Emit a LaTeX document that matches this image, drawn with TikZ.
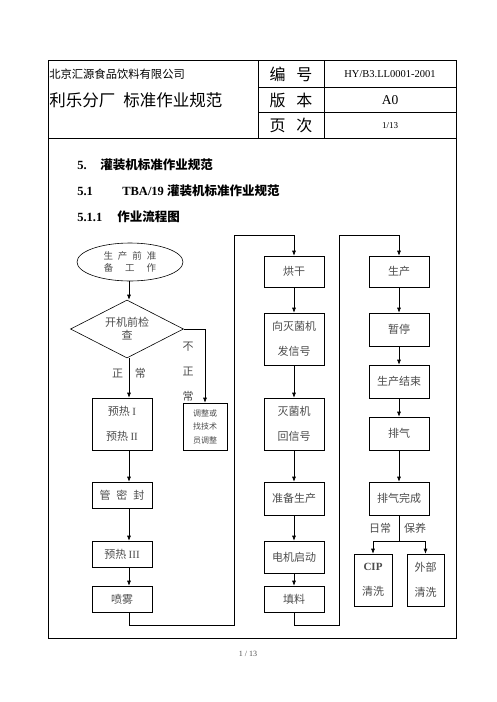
\documentclass[tikz,border=0pt]{standalone}
\usepackage{xcolor}
\usepackage{fontspec}
\setmainfont{Liberation Serif}
\newfontfamily\cjk{Noto Sans CJK SC}
\newcommand{\zh}[1]{{\cjk #1}}
\newcommand{\lat}[1]{{\rmfamily #1}}
\usepackage{tikz}
\usetikzlibrary{shapes, arrows.meta, positioning}

\begin{document}
\begin{tikzpicture}[x=1pt, y=-1pt, line width=0.6pt, >={Latex[length=5pt,width=4pt]},
    stepbox/.style={draw, rectangle, inner sep=0pt, align=center, text=black!70,
        font={\cjk\fontsize{11}{25}\selectfont}, minimum width=60pt},
    sidelabel/.style={text=black!70, font={\cjk\fontsize{11}{25}\selectfont}, inner sep=0pt},
    heading/.style={anchor=west, inner sep=0pt, font={\bfseries\fontsize{12.5}{14}\selectfont}}]

    \useasboundingbox (0,0) rectangle (496,702);

    % Frame and header table
    \draw (48,60) rectangle (456,638);
    \draw (258,60) -- (258,138.3);
    \draw (324,60) -- (324,138.3);
    \draw (258,87.7) -- (456,87.7);
    \draw (258,112.3) -- (456,112.3);
    \draw (48,138.3) -- (456,138.3);

    \node[anchor=west, inner sep=0pt, font={\cjk\fontsize{11.3}{13}\selectfont}] (company) at (49,74) {北京汇源食品饮料有限公司};
    \node[anchor=west, inner sep=0pt, font={\cjk\fontsize{16.5}{18}\selectfont}] (title) at (49,100) {利乐分厂\hspace{8pt}标准作业规范};
    \node[inner sep=0pt, font={\cjk\fontsize{16}{18}\selectfont}] (codekey) at (291,74) {编\hspace{11pt}号};
    \node[inner sep=0pt, font={\cjk\fontsize{16}{18}\selectfont}] (verkey) at (291,100) {版\hspace{11pt}本};
    \node[inner sep=0pt, font={\cjk\fontsize{16}{18}\selectfont}] (pagekey) at (291,125) {页\hspace{11pt}次};
    \node[inner sep=0pt, font=\fontsize{10.5}{12}\selectfont] (codeval) at (390,74) {HY/B3.LL0001-2001};
    \node[inner sep=0pt, font=\fontsize{13.5}{15}\selectfont] (verval) at (390,100) {A0};
    \node[inner sep=0pt, font=\fontsize{9}{11}\selectfont] (pageval) at (390,126) {1/13};

    % Headings
    \node[heading] (secA) at (77,165) {5.};
    \node[heading] (secAtext) at (100,165) {\zh{灌装机标准作业规范}};
    \node[heading] (secB) at (77,191) {5.1};
    \node[heading] (secBtext) at (122,191) {TBA/19 \zh{灌装机标准作业规范}};
    \node[heading] (secC) at (77,217) {5.1.1};
    \node[heading] (secCtext) at (117,217) {\zh{作业流程图}};

    % Left column
    \coordinate (lx) at (129,0);
    \node[draw, ellipse, inner sep=0pt, minimum width=106pt, minimum height=38pt, align=center, text=black!70,
        font={\cjk\fontsize{9.5}{12.5}\selectfont}] (prep) at (130,262) {生\hspace{5pt}产\hspace{5pt}前\hspace{5pt}准\\备\hspace{12pt}工\hspace{12pt}作};
    \node[draw, diamond, aspect=2, inner sep=0pt, minimum width=113pt, minimum height=58pt, align=center, text=black!70,
        font={\cjk\fontsize{11}{13}\selectfont}] (check) at (127,329) {开机前检\\查};
    \node[stepbox, minimum height=52pt] (preheat) at (122,424) {预热 \lat{I}\\预热 \lat{II}};
    \node[stepbox, minimum width=44pt, minimum height=47pt, font={\cjk\fontsize{8}{13.5}\selectfont}] (adjust) at (205,426.5) {调整或\\找技术\\员调整};
    \node[stepbox, minimum height=26pt] (seal) at (122,495) {管\hspace{6pt}密\hspace{6pt}封};
    \node[stepbox, minimum height=26pt] (preheatthree) at (122,554) {预热 \lat{III}};
    \node[stepbox, minimum height=26pt] (spray) at (122,599) {喷雾};

    \node[sidelabel] (normal) at (129,373) {正\hspace{12pt}常};
    \node[sidelabel, align=center] (abnormal) at (188,372) {不\\正\\常};

    % Middle column
    \node[stepbox, minimum height=31pt] (dry) at (294,271.5) {烘干};
    \node[stepbox, minimum height=52pt] (signal) at (294,339) {向灭菌机\\发信号};
    \node[stepbox, minimum height=52pt] (sterile) at (294,424) {灭菌机\\回信号};
    \node[stepbox, minimum height=33pt] (ready) at (294,498.5) {准备生产};
    \node[stepbox, minimum height=32pt] (motor) at (294,557) {电机启动};
    \node[stepbox, minimum height=26pt] (fill) at (294,599) {填料};

    % Right column
    \node[stepbox, minimum height=31pt] (produce) at (399,271.5) {生产};
    \node[stepbox, minimum height=33pt] (pause) at (399,329.5) {暂停};
    \node[stepbox, minimum height=33pt] (finish) at (399,381.5) {生产结束};
    \node[stepbox, minimum height=33pt] (exhaust) at (399,433.5) {排气};
    \node[stepbox, minimum height=33pt] (exhaustdone) at (399,498.5) {排气完成};
    \node[stepbox, minimum width=38pt, minimum height=52pt] (cip) at (373,580) {\lat{\bfseries CIP}\\清洗};
    \node[stepbox, minimum width=37pt, minimum height=52pt] (outer) at (425.5,580) {外部\\清洗};
    \node[sidelabel] (daily) at (380,528) {日常};
    \node[sidelabel] (upkeep) at (415,528) {保养};

    % Connectors
    \draw[->] (lx |- prep.south) -- (lx |- check.north);
    \draw[->] (lx |- check.south) -- (lx |- preheat.north);
    \draw[->] (check.east) -| (adjust.north);
    \draw[->] (lx |- preheat.south) -- (lx |- seal.north);
    \draw[->] (lx |- seal.south) -- (lx |- preheatthree.north);
    \draw[->] (lx |- preheatthree.south) -- (lx |- spray.north);

    \coordinate (turnA) at (234,625);
    \coordinate (topA) at (234,235);
    \draw[->] (lx |- spray.south) |- (turnA) -- (topA) -| (dry.north);

    \draw[->] (dry) -- (signal);
    \draw[->] (signal) -- (sterile);
    \draw[->] (sterile) -- (ready);
    \draw[->] (ready) -- (motor);
    \draw[->] (motor) -- (fill);

    \coordinate (turnB) at (339,625);
    \coordinate (topB) at (339,235);
    \draw[->] (fill.south) |- (turnB) -- (topB) -| (produce.north);

    \draw[->] (produce) -- (pause);
    \draw[->] (pause) -- (finish);
    \draw[->] (finish) -- (exhaust);
    \draw[->] (exhaust) -- (exhaustdone);

    \coordinate (split) at (399,541);
    \draw (exhaustdone.south) -- (split);
    \draw[->] (split) -| (cip.north);
    \draw[->] (split) -| (outer.north);

    % Footer
    \node[text=black!70, font=\fontsize{8}{10}\selectfont] (footer) at (248,654) {1 / 13};

\end{tikzpicture}
\end{document}
